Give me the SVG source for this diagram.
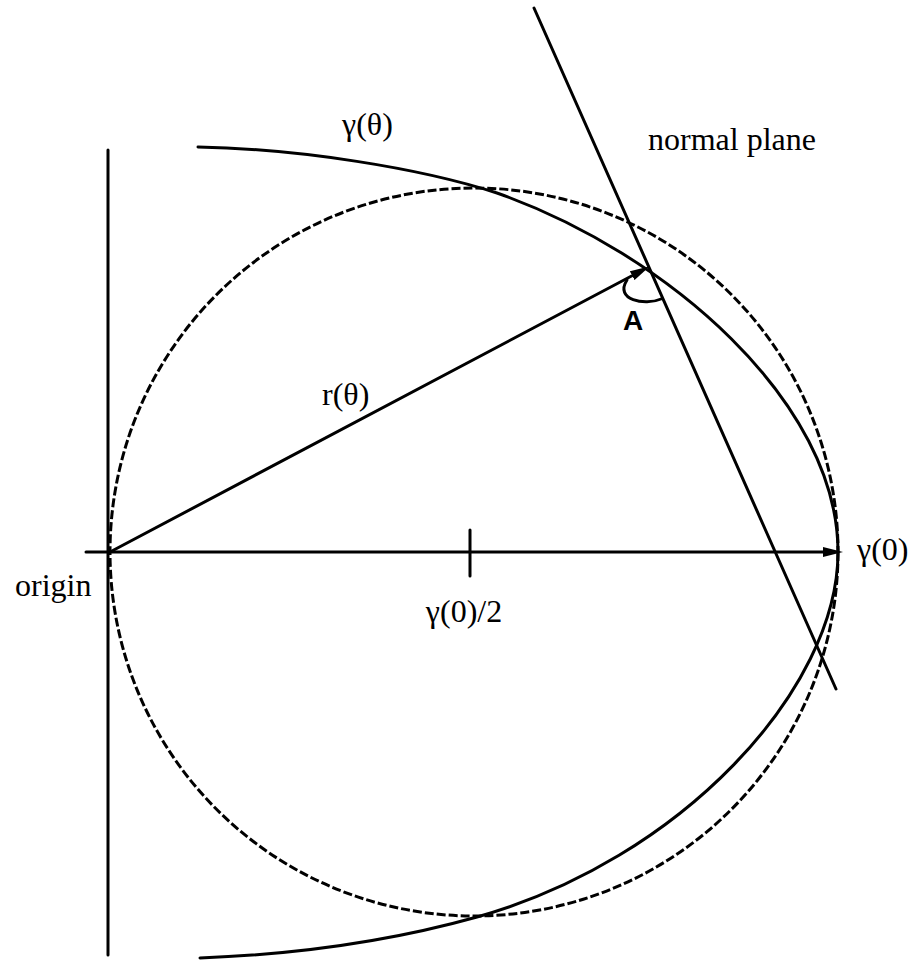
<svg xmlns="http://www.w3.org/2000/svg" width="919" height="960" viewBox="0 0 919 960">
<style>
.ln{stroke:#000;stroke-width:3;fill:none;stroke-linecap:round}
.dash{stroke:#000;stroke-width:3;fill:none;stroke-dasharray:9 3}
.lbl{font-family:"Liberation Serif","Times New Roman",serif;font-size:32px;fill:#000}
.bold{font-family:"Liberation Sans",Arial,sans-serif;font-weight:bold;font-size:28px;fill:#000}
</style>
<defs>
<marker id="arr" viewBox="0 0 20 10" refX="10" refY="5" markerWidth="20" markerHeight="10" markerUnits="userSpaceOnUse" orient="auto">
<path d="M0,0 L20,5 L0,10 z" fill="#000"/>
</marker>
</defs>
<rect width="919" height="960" fill="#fff"/>
<g id="circle">
<circle class="dash" cx="474" cy="552" r="364"/>
</g>
<g id="curve">
<path class="ln" d="M198,147 C300,149 420,168 497,193 C667,253 838,402 838,552 C838,690 680,860 477,917 C377,945 280,955 200,958"/>
</g>
<g id="connectors">
<line class="ln" x1="108" y1="150" x2="108" y2="955"/>
<line class="ln" x1="86" y1="552" x2="833" y2="552" marker-end="url(#arr)"/>
<line class="ln" x1="470" y1="530" x2="470" y2="576"/>
<line class="ln" x1="534" y1="8" x2="836" y2="689"/>
<line class="ln" x1="110" y1="552" x2="641" y2="271" marker-end="url(#arr)"/>
<path class="ln" d="M627,280 C614,300 645,306 661,299"/>
</g>
<g id="labels">
<text class="lbl" x="342" y="135">γ(θ)</text>
<text class="lbl" x="648" y="150">normal plane</text>
<text class="lbl" x="322" y="405">r(θ)</text>
<text class="bold" x="623" y="330">A</text>
<text class="lbl" x="15" y="596">origin</text>
<text class="lbl" x="464" y="622" text-anchor="middle">γ(0)/2</text>
<text class="lbl" x="857" y="560">γ(0)</text>
</g>
</svg>
